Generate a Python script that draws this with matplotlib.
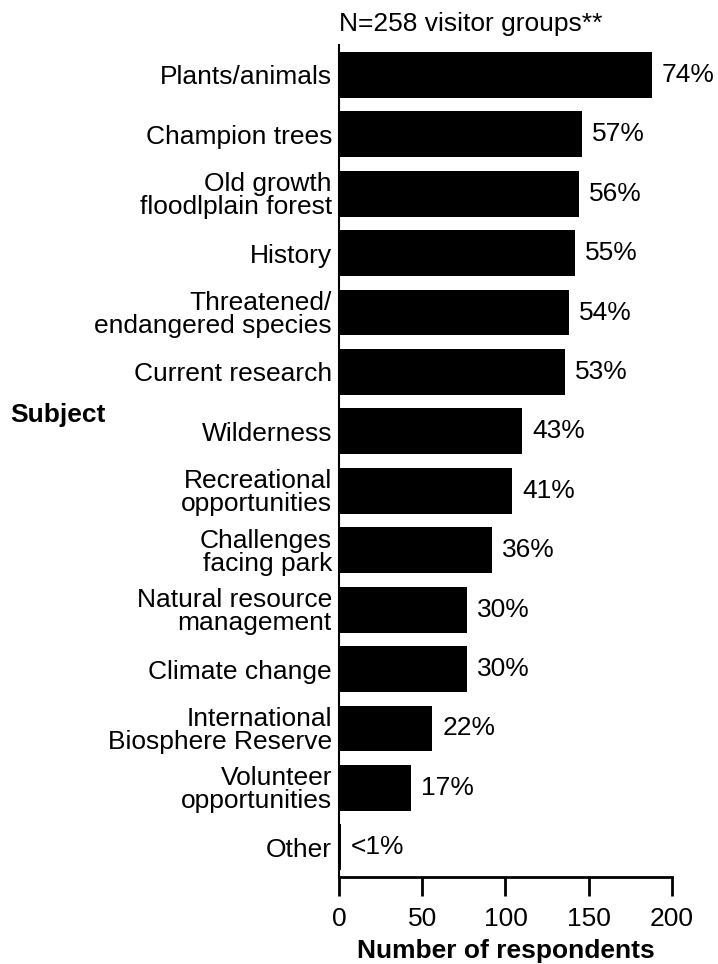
import matplotlib
matplotlib.use('Agg')
from matplotlib import pyplot as plt

plt.rcParams['font.family'] = ['Liberation Sans', 'DejaVu Sans']

subjects = ['Plants/animals', 'Champion trees', 'Old growth\nfloodlplain forest', 'History',
            'Threatened/\nendangered species', 'Current research', 'Wilderness',
            'Recreational\nopportunities', 'Challenges\nfacing park', 'Natural resource\nmanagement',
            'Climate change', 'International\nBiosphere Reserve', 'Volunteer\nopportunities', 'Other']
respondents = [188, 146, 144, 142, 138, 136, 110, 104, 92, 77, 77, 56, 43, 1]
pct_labels = ['74%', '57%', '56%', '55%', '54%', '53%', '43%', '41%', '36%', '30%', '30%',
              '22%', '17%', '<1%']

fig = plt.figure(figsize=(7.18, 9.64), dpi=100)
ax = fig.add_axes([0.472, 0.0902, 0.464, 0.863])

pos = list(range(len(subjects)))
ax.barh(pos, respondents, height=0.77, color='black')
ax.set_ylim(len(subjects) - 0.5, -0.5)
ax.set_xlim(0, 200)
ax.set_yticks(pos)
ax.set_yticklabels(subjects, fontsize=19, linespacing=0.95)
ax.tick_params(axis='y', length=0, pad=5)
ax.set_xticks([0, 50, 100, 150, 200])
ax.tick_params(axis='x', labelsize=19, length=14, width=2, direction='out', pad=7.5)

for s in ['top', 'right']:
    ax.spines[s].set_visible(False)
ax.spines['left'].set_linewidth(1.5)
ax.spines['bottom'].set_linewidth(2)

for p, v, t in zip(pos, respondents, pct_labels):
    ax.text(v + 6, p, t, va='center', ha='left', fontsize=19)

ax.set_xlabel('Number of respondents', fontsize=19, fontweight='bold', labelpad=6)
fig.text(0.472, 0.975, 'N=258 visitor groups**', fontsize=19, ha='left', va='center')
fig.text(0.014, 0.569, 'Subject', fontsize=19, fontweight='bold', ha='left', va='center')

fig.savefig('out.png', dpi=100)
